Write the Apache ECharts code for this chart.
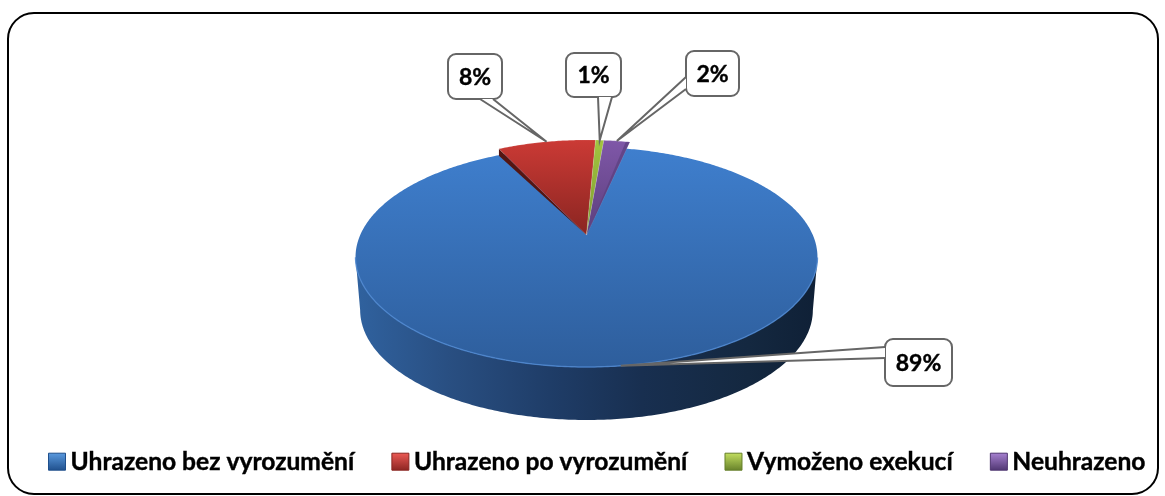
<!DOCTYPE html>
<html><head><meta charset="utf-8">
<style>html,body{margin:0;padding:0;background:#fff}#c{width:1165px;height:496px}</style>
<script src="https://cdn.jsdelivr.net/npm/echarts@6/dist/echarts.min.js"></script>
</head><body><div id="c"></div>
<script>
const categories = ['Uhrazeno bez vyrozumění','Uhrazeno po vyrozumění','Vymoženo exekucí','Neuhrazeno'];
const values = [88.8, 8.3, 0.7, 2.2];

// layout and styling (not data)
const G = {cx:586.5, ay:235, sx:226.3, sy:105.6, k:0.2, depth:53, start:13.2, lift:1.08, bottomScale:0.98};
const faces = [
  {top:['#3f7fce','#2e5e9c'], leg:['#5b9be0','#1f4f8c']},
  {top:['#cb3a35','#8a2521'], leg:['#ee5a55','#8a2521']},
  {top:['#a2c440','#7d9a30'], leg:['#c4e060','#66802a']},
  {top:['#7f57a8','#5c3f7c'], leg:['#a882d2','#4e3570']}
];
const callouts = [
  {box:[885,339,67,47], base:[[885,347],[885,358]]},
  {box:[448,54,54,45],  base:[[480,99],[493,99]]},
  {box:[566,53,55,44],  base:[[598,97],[612,97]]},
  {box:[686,51,53,45],  base:[[686,77],[686,89]]}
];
const total = values.reduce((a,b)=>a+b,0);
const spans = []; { let a = G.start; values.forEach(v=>{ const d=v/total*360; spans.push([a,a+d]); a+=d; }); }

function project(deg, lift){
  const r = deg*Math.PI/180, u=Math.sin(r), v=Math.cos(r), w=1+G.k*v;
  return [G.cx+G.sx*u/w, G.ay-G.sy*v/w*lift];
}
function arc(a0,a1,lift){
  const n=Math.max(8,Math.ceil((a1-a0)*1.5)), p=[];
  for(let i=0;i<=n;i++) p.push(project(a0+(a1-a0)*i/n,lift));
  return p;
}
const grad=(x,y,x2,y2,st)=>new echarts.graphic.LinearGradient(x,y,x2,y2,st,true);

function renderSlice(params, api){
  const i=params.seriesIndex, lift=i===0?1:G.lift, [a0,a1]=spans[i];
  const pts=arc(a0,a1,lift), apex=[G.cx,G.ay], kids=[];
  if(i===0){
    let iMax=0,iMin=0; pts.forEach((p,j)=>{ if(p[0]>pts[iMax][0])iMax=j; if(p[0]<pts[iMin][0])iMin=j; });
    const front=pts.slice(iMax,iMin+1);
    const low=front.map(p=>[G.cx+(p[0]-G.cx)*G.bottomScale,p[1]+G.depth]).reverse();
    kids.push({type:'polygon',shape:{points:front.concat(low)},z2:1,style:{fill:grad(355,0,818,0,[
      {offset:0,color:'#30629f'},{offset:.2,color:'#294f82'},{offset:.42,color:'#1f3d68'},
      {offset:.62,color:'#182f50'},{offset:.85,color:'#142840'},{offset:1,color:'#0f2036'}])}});
    // the face runs on a little under the neighbouring raised slices so no gap shows
    kids.push({type:'polygon',shape:{points:[apex].concat(arc(a0-6,a1+6,1))},z2:2,style:{fill:grad(0,147,0,367,[
      {offset:0,color:faces[0].top[0]},{offset:1,color:faces[0].top[1]}])}});
    kids.push({type:'polyline',shape:{points:front},z2:3,style:{fill:null,stroke:'#4c86cf',lineWidth:1.4,opacity:.85}});
  } else {
    kids.push({type:'polygon',shape:{points:[apex].concat(pts)},z2:5,style:{
      fill:grad(0,140,0,G.ay,[{offset:0,color:faces[i].top[0]},{offset:1,color:faces[i].top[1]}]),
      stroke:'rgba(255,255,255,.25)',lineWidth:.5}});
    if(i===1){
      const c=pts[0];
      kids.push({type:'polygon',shape:{points:[apex,c,[c[0],c[1]+7]]},z2:4,style:{fill:'#541512'}});
    }
    if(i===3){
      const c=pts[pts.length-1];
      kids.push({type:'polygon',shape:{points:[apex,c,[c[0]-4,c[1]]]},z2:6,style:{fill:'#5a3f7e',opacity:.7}});
    }
  }
  // callout
  const co=callouts[i], tip=project((a0+a1)/2,lift), [bx,by,bw,bh]=co.box;
  const gray='#666666';
  kids.push({type:'rect',shape:{x:bx,y:by,width:bw,height:bh,r:8},z2:10,style:{fill:'#fff',stroke:gray,lineWidth:2}});
  kids.push({type:'polygon',shape:{points:[co.base[0],co.base[1],tip]},z2:11,style:{fill:'#fff'}});
  kids.push({type:'polyline',shape:{points:[co.base[0],tip,co.base[1]]},z2:12,style:{fill:null,stroke:gray,lineWidth:2}});
  kids.push({type:'text',z2:13,style:{x:bx+bw/2,y:by+bh/2+1,text:Math.round(api.value(0)/total*100)+'%',
    align:'center',verticalAlign:'middle',font:'bold 23px Lato',fill:'#000',stroke:'#000',lineWidth:.4}});
  return {type:'group',children:kids};
}

const chart=echarts.init(document.getElementById('c'),null,{renderer:'canvas'});
chart.setOption({
  animation:false,
  backgroundColor:'#fff',
  graphic:[{type:'rect',silent:true,shape:{x:8,y:13,width:1150,height:481,r:26},style:{fill:'none',stroke:'#000',lineWidth:2}}],
  legend:{
    left:43,top:444,itemWidth:17,itemHeight:17,itemGap:37,selectedMode:false,icon:'rect',
    textStyle:{fontFamily:'Lato',fontWeight:'bold',fontSize:24.6,color:'#000',textBorderColor:'#000',textBorderWidth:.4},
    data:categories.map((n,i)=>({name:n,itemStyle:{color:new echarts.graphic.LinearGradient(0,0,0,1,[
      {offset:0,color:faces[i].leg[0]},{offset:1,color:faces[i].leg[1]}]),borderColor:faces[i].leg[1],borderWidth:1}}))
  },
  series:categories.map((n,i)=>({
    type:'custom',name:n,coordinateSystem:'none',renderItem:renderSlice,silent:true,
    itemStyle:{color:faces[i].top[0]},data:[[values[i]]]
  }))
});
</script></body></html>
